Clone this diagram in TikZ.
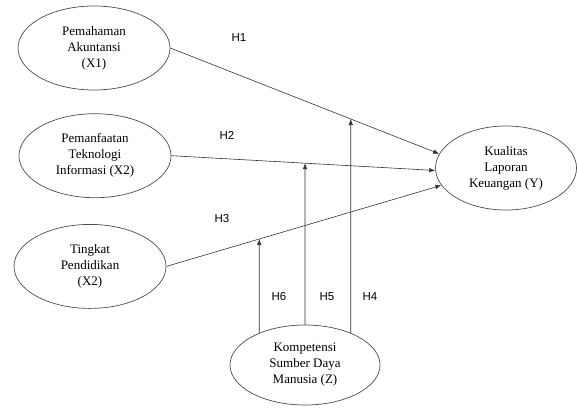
\documentclass[tikz,border=0pt]{standalone}
\usepackage{fontspec}
\setmainfont{Liberation Serif}
\newfontfamily\hfont{Liberation Sans}
\usetikzlibrary{positioning}
\usetikzlibrary{shapes}
\usetikzlibrary{arrows.meta}
\usetikzlibrary{intersections}

\begin{document}
\begin{tikzpicture}
[x=1pt,y=-1pt,->,>={Latex[length=6pt,width=4.5pt]},line width=0.6pt,
  draw=black!80, ell node/.style={ellipse,draw=black!70,line
    width=0.7pt,minimum width=152pt,minimum height=84pt, inner sep=0pt,
    align=center,font=\fontsize{13}{16}\selectfont}, empt
  node/.style={inner sep=0pt,outer sep=0pt,font=\hfont\fontsize{11.5}{13}\selectfont}]

    \useasboundingbox (0,0) rectangle (577,407);

    \node [ell node] (x1) at (94,48) {Pemahaman\\Akuntansi\\(X1)};
    \node [ell node] (x2) [below=23pt of x1, xshift=1pt] {Pemanfaatan\\Teknologi\\Informasi (X2)};
    \node [ell node] (x3) [below=26pt of x2, xshift=-5pt] {Tingkat\\Pendidikan\\(X2)};
    \node [ell node] (y) at (506,168) [minimum width=141pt] {Kualitas\\Laporan\\Keuangan (Y)};
    \node [ell node] (z) at (305,365) [minimum width=150pt, minimum height=80pt] {Kompetensi\\Sumber Daya\\Manusia (Z)};

    \node [empt node] (h1) at (239,38) {H1};
    \node [empt node] (h2) at (227,135) {H2};
    \node [empt node] (h3) at (222,219) {H3};
    \node [empt node] (h6) at (279,297) {H6};
    \node [empt node] (h5) at (327,297) {H5};
    \node [empt node] (h4) at (370,297) {H4};

    \draw [name path=l1] (x1.east) -- (y.168);
    \draw [name path=l2] (x2.east) -- (y.182);
    \draw [name path=l3] (x3.east) -- (y.195);

    \path [name path=v4] (z.35) -- ++(0,-260);
    \path [name path=v5] (z.north) -- ++(0,-200);
    \path [name path=v6] (z.145) -- ++(0,-150);
    \draw [name intersections={of=l1 and v4,by=c4}] (z.35) -- (c4);
    \draw [name intersections={of=l2 and v5,by=c5}] (z.north) -- (c5);
    \draw [name intersections={of=l3 and v6,by=c6}] (z.145) -- (c6);
\end{tikzpicture}
\end{document}
